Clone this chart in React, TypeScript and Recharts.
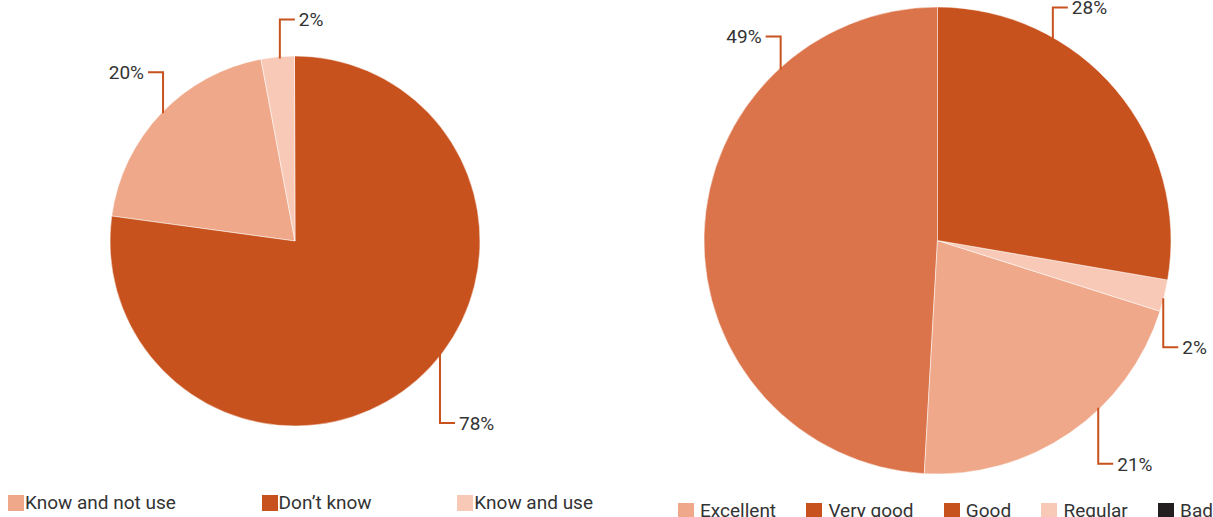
import React from 'react';
import { PieChart, Pie, Cell } from 'recharts';

// left pie: awareness
const awarenessNames = ['Know and not use', 'Don’t know', 'Know and use'];
const awarenessValues = [19.9, 77.2, 2.9];
const awarenessLabels = ['20%', '78%', '2%'];

// right pie: rating (drawn counter-clockwise from 12 o'clock)
const ratingNames = ['Very good', 'Excellent', 'Regular', 'Good', 'Bad'];
const ratingValues = [49.1, 21.0, 2.2, 27.7, 0];
const ratingLabels = ['49%', '21%', '2%', '28%', ''];
const ratingLegend = ['Excellent', 'Very good', 'Good', 'Regular', 'Bad'];

const DARK = '#c8521e';
const MID = '#db744a';
const LIGHT = '#efa98a';
const LIGHTEST = '#f8c9b6';
const BLACK = '#231f20';

const awarenessColors = [LIGHT, DARK, LIGHTEST];
const ratingColors = [MID, LIGHT, LIGHTEST, DARK, BLACK];
const ratingLegendColors = [LIGHT, DARK, DARK, LIGHTEST, BLACK];

const FONT = 'Roboto, sans-serif';
const TEXT = '#333';
const FONT_SIZE = 19;

// where each leader line leaves the rim (deg), its vertical leg, and which side the text sits
type LabelSpot = { angle: number; leg: number; side: number };
const awarenessSpots: LabelSpot[] = [
  { angle: 135.5, leg: 39, side: -1 },
  { angle: -38.4, leg: 67, side: 1 },
  { angle: 94.7, leg: 37, side: 1 },
];
const ratingSpots: LabelSpot[] = [
  { angle: 132.2, leg: 31, side: -1 },
  { angle: -46.5, leg: 54, side: 1 },
  { angle: -14.8, leg: 47, side: 1 },
  { angle: 60.4, leg: 30, side: 1 },
];

const makeLabel = (labels: string[], spots: LabelSpot[]) => (props: any) => {
  const { cx, cy, outerRadius, index } = props;
  const spot = spots[index];
  if (!spot || !labels[index]) return null;
  const rad = (spot.angle * Math.PI) / 180;
  const x0 = cx + outerRadius * Math.cos(rad);
  const y0 = cy - outerRadius * Math.sin(rad);
  const up = Math.sin(rad) > 0;
  const y1 = up ? y0 - spot.leg : y0 + spot.leg;
  const x1 = x0 + spot.side * 15;
  return (
    <g>
      <path
        d={`M${x0},${y0 + (up ? 2 : -2)}L${x0},${y1}L${x1},${y1}`}
        stroke={DARK}
        strokeWidth={2}
        fill="none"
      />
      <text
        x={x1 + spot.side * 4}
        y={y1}
        dy="0.36em"
        textAnchor={spot.side > 0 ? 'start' : 'end'}
        fill={TEXT}
        fontSize={FONT_SIZE}
        fontFamily={FONT}
      >
        {labels[index]}
      </text>
    </g>
  );
};

const awarenessData = awarenessNames.map((name, i) => ({ name, value: awarenessValues[i] }));
const ratingData = ratingNames.map((name, i) => ({ name, value: ratingValues[i] }));

const square = (color: string) => (
  <span style={{ display: 'inline-block', width: 16, height: 16, background: color, flexShrink: 0 }} />
);

export default function App() {
  return (
    <div style={{ position: 'absolute', left: 0, top: 0, width: 1213, height: 517, overflow: 'hidden', background: '#fff' }}>
      <PieChart width={1213} height={517} margin={{ top: 0, right: 0, bottom: 0, left: 0 }}>
        <Pie
          data={awarenessData}
          dataKey="value"
          nameKey="name"
          cx={295}
          cy={241}
          outerRadius={185}
          startAngle={100.6}
          endAngle={460.6}
          stroke="#fff"
          strokeWidth={0.5}
          labelLine={false}
          label={makeLabel(awarenessLabels, awarenessSpots)}
          isAnimationActive={false}
        >
          {awarenessData.map((d, i) => (
            <Cell key={d.name} fill={awarenessColors[i]} />
          ))}
        </Pie>
        <Pie
          data={ratingData}
          dataKey="value"
          nameKey="name"
          cx={937.5}
          cy={240.5}
          outerRadius={233.5}
          startAngle={90}
          endAngle={450}
          stroke="#fff"
          strokeWidth={0.5}
          labelLine={false}
          label={makeLabel(ratingLabels, ratingSpots)}
          isAnimationActive={false}
        >
          {ratingData.map((d, i) => (
            <Cell key={d.name} fill={ratingColors[i]} />
          ))}
        </Pie>
      </PieChart>

      <div
        style={{
          position: 'absolute', left: 8, top: 494, width: 585, display: 'flex',
          justifyContent: 'space-between', fontFamily: FONT, fontSize: FONT_SIZE, color: TEXT, lineHeight: '18px',
        }}
      >
        {awarenessNames.map((n, i) => (
          <div key={n} style={{ display: 'flex', alignItems: 'center' }}>
            {square(awarenessColors[i])}
            <span style={{ marginLeft: 1 }}>{n}</span>
          </div>
        ))}
      </div>

      <div
        style={{
          position: 'absolute', left: 678, top: 502, width: 535, display: 'flex', justifyContent: 'space-between',
          fontFamily: FONT, fontSize: FONT_SIZE, color: TEXT, lineHeight: '18px', whiteSpace: 'nowrap',
        }}
      >
        {ratingLegend.map((n, i) => (
          <div key={n} style={{ display: 'flex', alignItems: 'center' }}>
            {square(ratingLegendColors[i])}
            <span style={{ marginLeft: 6 }}>{n}</span>
          </div>
        ))}
      </div>
    </div>
  );
}
